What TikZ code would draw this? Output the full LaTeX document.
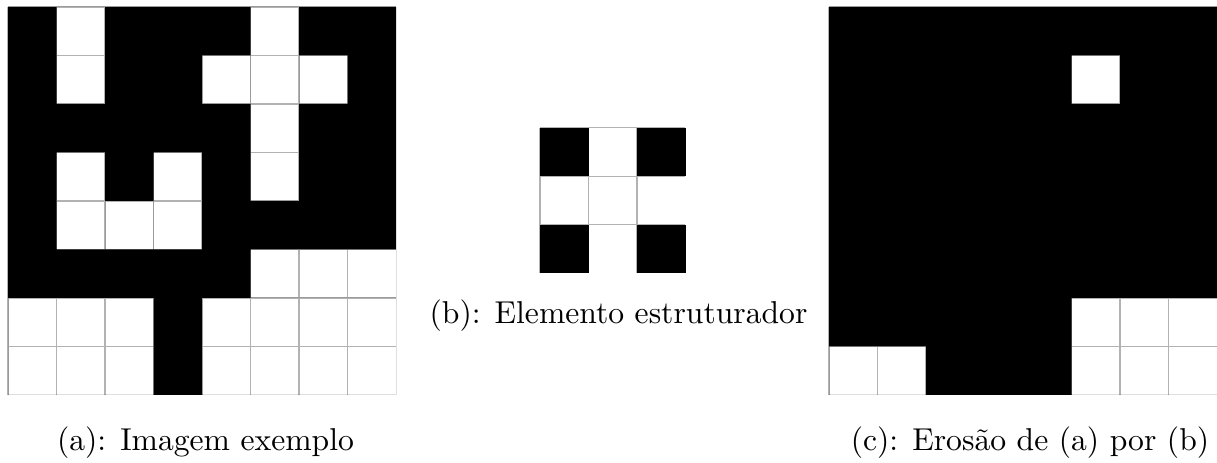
\documentclass[tikz,border=0pt]{standalone}
\usetikzlibrary{calc}

\begin{document}
\begin{tikzpicture}[x=0.539cm, y=0.539cm]
    \tikzstyle{px}=[fill=black, even odd rule]
    \tikzstyle{gridline}=[draw=gray!60, line width=0.45pt, step=1]
    \tikzstyle{caption}=[anchor=base, inner sep=0pt]
    \useasboundingbox (0,0) rectangle (25.093,-9.526);
    \coordinate (A) at (0.165,-0.144);
    \coordinate (B) at (11.134,-2.633);
    \coordinate (C) at (17.093,-0.144);
    % (a) imagem exemplo
    \begin{scope}[shift={(A)}]
        \draw[gridline] (0,-7.99) grid (7.99,0);
        \fill[px] (0,0) rectangle (8,-8)
            (1,0) rectangle (2,-2)
            (5,0) rectangle (6,-4)
            (4,-1) rectangle (5,-2)
            (6,-1) rectangle (7,-2)
            (1,-3) rectangle (2,-5)
            (3,-3) rectangle (4,-5)
            (2,-4) rectangle (3,-5)
            (5,-5) rectangle (8,-6)
            (0,-6) rectangle (3,-8)
            (4,-6) rectangle (8,-8);
    \end{scope}
    % (b) elemento estruturador
    \begin{scope}[shift={(B)}]
        \draw[gridline] (0,-2.99) grid (2.99,0);
        \fill[px] (0,0) rectangle (1,-1);
        \fill[px] (2,0) rectangle (3,-1);
        \fill[px] (0,-2) rectangle (1,-3);
        \fill[px] (2,-2) rectangle (3,-3);
    \end{scope}
    % (c) erosao
    \begin{scope}[shift={(C)}]
        \draw[gridline] (0,-7.99) grid (7.99,0);
        \fill[px] (0,0) rectangle (8,-8)
            (5,-1) rectangle (6,-2)
            (5,-6) rectangle (8,-8)
            (0,-7) rectangle (2,-8);
    \end{scope}
    \node[caption] (capA) at (4.237,-9.293) {(a): Imagem exemplo};
    \node[caption] (capB) at (12.753,-6.668) {(b): Elemento estruturador};
    \node[caption] (capC) at (21.237,-9.293) {(c): Erosão de (a) por (b)};
\end{tikzpicture}
\end{document}
